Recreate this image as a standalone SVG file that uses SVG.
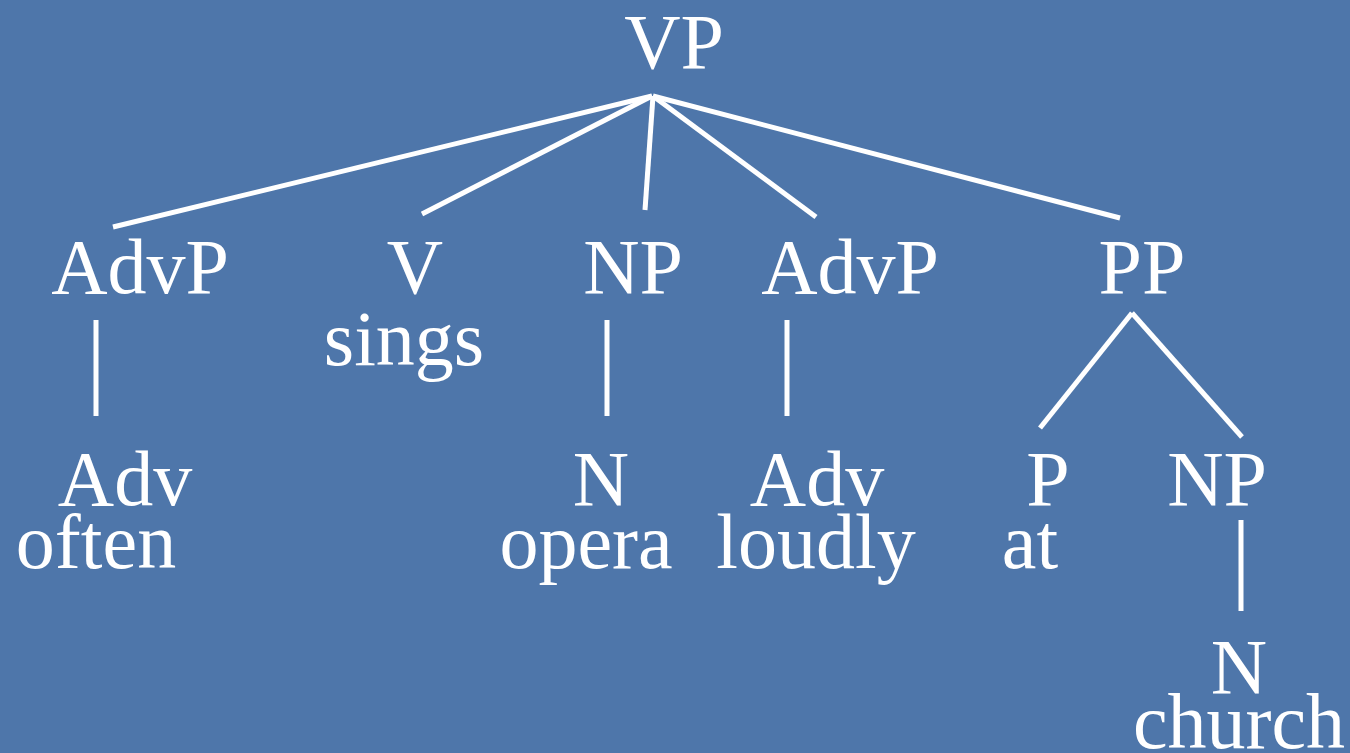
<svg xmlns="http://www.w3.org/2000/svg" width="1350" height="753" viewBox="0 0 1350 753">
  <style>
    .lbl { font-family: "Liberation Serif", "Times New Roman", serif; font-size: 78px; fill: #ffffff; text-anchor: middle; }
    .edge { stroke: #ffffff; stroke-width: 5; stroke-linecap: butt; fill: none; }
  </style>
  <rect width="1350" height="753" fill="#4E76AA"/>

  <!-- tree branches -->
  <g id="connectors">
    <line class="edge" x1="652" y1="96" x2="113" y2="227"/>
    <line class="edge" x1="652" y1="96" x2="422" y2="214"/>
    <line class="edge" x1="653" y1="96" x2="645" y2="210"/>
    <line class="edge" x1="653" y1="96" x2="816" y2="217"/>
    <line class="edge" x1="653" y1="96" x2="1120" y2="218"/>
    <line class="edge" x1="96" y1="320" x2="96" y2="416"/>
    <line class="edge" x1="607" y1="320" x2="607" y2="416"/>
    <line class="edge" x1="787" y1="320" x2="787" y2="416"/>
    <line class="edge" x1="1132" y1="313" x2="1040" y2="428"/>
    <line class="edge" x1="1132" y1="313" x2="1242" y2="437"/>
    <line class="edge" x1="1241" y1="520" x2="1241" y2="611"/>
  </g>

  <g id="vp"><text class="lbl" x="674" y="68">VP</text></g>
  <g id="advp1"><text class="lbl" x="140" y="293">AdvP</text></g>
  <g id="v"><text class="lbl" x="415" y="293">V</text><text class="lbl" x="404" y="365">sings</text></g>
  <g id="np1"><text class="lbl" x="633" y="293">NP</text></g>
  <g id="advp2"><text class="lbl" x="850" y="293">AdvP</text></g>
  <g id="pp"><text class="lbl" x="1142" y="293">PP</text></g>
  <g id="adv1"><text class="lbl" x="125" y="505">Adv</text><text class="lbl" x="96" y="568">often</text></g>
  <g id="n1"><text class="lbl" x="601" y="505">N</text><text class="lbl" x="586" y="568">opera</text></g>
  <g id="adv2"><text class="lbl" x="817" y="505">Adv</text><text class="lbl" x="816" y="568">loudly</text></g>
  <g id="p"><text class="lbl" x="1048" y="505">P</text><text class="lbl" x="1030" y="568">at</text></g>
  <g id="np2"><text class="lbl" x="1217" y="505">NP</text></g>
  <g id="n2"><text class="lbl" x="1239" y="693">N</text><text class="lbl" x="1239" y="748">church</text></g>
</svg>
